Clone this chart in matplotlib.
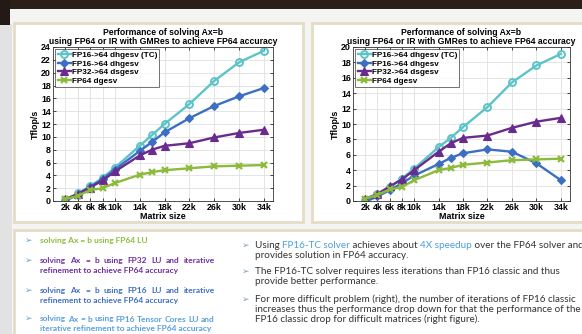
import matplotlib
matplotlib.use("Agg")
import matplotlib.pyplot as plt
from matplotlib.patches import Rectangle

# ---------------- data ----------------
sizes_k = [2, 4, 6, 8, 10, 14, 16, 18, 22, 26, 30, 34]
tick_k = [2, 4, 6, 8, 10, 14, 18, 22, 26, 30, 34]
tick_labels = ["2k", "4k", "6k", "8k", "10k", "14k", "18k", "22k", "26k", "30k", "34k"]

series_names = ["FP16->64 dhgesv (TC)", "FP16->64 dhgesv", "FP32->64 dsgesv", "FP64 dgesv"]

left_tc = [0.1, 1.2, 2.3, 3.6, 5.2, 8.6, 10.3, 12.0, 15.1, 18.7, 21.6, 23.4]
left_fp16 = [0.0, 1.0, 2.2, 3.4, 4.9, 7.8, 9.2, 10.7, 12.9, 14.8, 16.3, 17.6]
left_fp32 = [0.3, 1.1, 2.1, 3.2, 4.6, 7.1, 8.0, 8.6, 9.0, 9.9, 10.6, 11.1]
left_fp64 = [0.3, 0.8, 1.7, 2.0, 2.8, 4.1, 4.5, 4.8, 5.1, 5.4, 5.5, 5.6]

right_tc = [0.1, 0.9, 1.8, 2.9, 4.2, 7.0, 8.2, 9.6, 12.2, 15.4, 17.6, 19.1]
right_fp16 = [-0.1, 0.6, 1.4, 2.3, 3.3, 4.8, 5.6, 6.2, 6.7, 6.4, 4.9, 2.7]
right_fp32 = [0.3, 0.9, 1.9, 2.8, 4.0, 6.4, 7.5, 8.2, 8.5, 9.5, 10.3, 10.8]
right_fp64 = [0.3, 0.8, 1.5, 1.8, 2.7, 4.0, 4.3, 4.7, 5.0, 5.3, 5.4, 5.5]

left_yticks = list(range(0, 25, 2))
right_yticks = list(range(0, 21, 2))

title_text = "Performance of solving Ax=b\nusing FP64 or IR with GMRes to achieve FP64 accuracy"
xlabel_text = "Matrix size"
ylabel_text = "Tflop/s"

left_bullets = [
    (["solving Ax = b using FP64 LU"], "#8dbf3c"),
    (["solving Ax = b using FP32 LU and iterative", "refinement to achieve FP64 accuracy"], "#7030a0"),
    (["solving Ax = b using FP16 LU and iterative", "refinement to achieve FP64 accuracy"], "#3f6fc0"),
    (["solving Ax = b using FP16 Tensor Cores LU and", "iterative refinement to achieve FP64 accuracy"], "#5aa0e0"),
]

right_bullets = [
    [[("Using ", "#333333"), ("FP16-TC solver", "#4a9ee0"), (" achieves about ", "#333333"),
      ("4X speedup", "#4a9ee0"), (" over the FP64 solver and", "#333333")],
     [("provides solution in FP64 accuracy.", "#333333")]],
    [[("The FP16-TC solver requires less iterations than FP16 classic and thus", "#333333")],
     [("provide better performance.", "#333333")]],
    [[("For more difficult problem (right), the number of iterations of FP16 classic", "#333333")],
     [("increases thus the performance drop down for that the performance of the", "#333333")],
     [("FP16 classic drop for difficult matrices (right figure).", "#333333")]],
]

# ---------------- styles ----------------
colors = ["#5cc4c8", "#3c6fc4", "#6a2b8e", "#8cba3a"]
markers = ["o", "D", "^", "x"]
msizes = [5.0, 4.0, 5.2, 5.0]
W, H = 582, 334
CHART_FONT = "Liberation Sans"
TEXT_FONT = "Lato"

fig = plt.figure(figsize=(W / 100, H / 100), dpi=100)
fig.patch.set_facecolor("#f2f2f2")


def px_rect(x, y, w, h, **kw):
    r = Rectangle((x / W, 1 - (y + h) / H), w / W, h / H, transform=fig.transFigure, **kw)
    fig.patches.append(r)


# slide background
px_rect(0, 0, W, H, facecolor="#f4f4f2", edgecolor="none", zorder=-10)
px_rect(0, 24, 12, H - 24, facecolor="#e2e2e2", edgecolor="none", zorder=-9)
px_rect(0, 0, W, 9, facecolor="#2b1f19", edgecolor="none", zorder=-8)
px_rect(0, 0, 10, 25, facecolor="#231a16", edgecolor="none", zorder=-8)
# panels
px_rect(14, 23, 289, 199, facecolor="white", edgecolor="#e4dcc6", linewidth=2.0, zorder=-5)
px_rect(312, 23, 280, 199, facecolor="white", edgecolor="#e4dcc6", linewidth=2.0, zorder=-5)
px_rect(14, 230, 580, 110, facecolor="white", edgecolor="#e4dcc6", linewidth=2.0, zorder=-5)


def make_chart(ax_px, data, yticks, ymax):
    x0, y0, w, h = ax_px
    ax = fig.add_axes([x0 / W, 1 - (y0 + h) / H, w / W, h / H])
    for vals, name, c, m, ms in zip(data, series_names, colors, markers, msizes):
        kw = dict(color=c, linewidth=1.7, marker=m, markersize=ms, label=name)
        if m == "x":
            kw.update(markeredgewidth=1.6)
        elif m == "o":
            kw.update(markerfacecolor="none", markeredgewidth=1.4)
        else:
            kw.update(markeredgewidth=0.8)
        ax.plot(sizes_k, vals, **kw)
    ax.set_xlim(0, 35.5)
    ax.set_ylim(0, ymax)
    ax.set_xticks(tick_k)
    ax.set_xticklabels(tick_labels)
    ax.set_yticks(yticks)
    ax.grid(True, color="#e0e0e0", linewidth=0.6)
    ax.set_axisbelow(True)
    ax.tick_params(labelsize=6.4, length=2, width=0.5, pad=1.5, direction="in",
                   top=True, right=True)
    for lab in ax.get_xticklabels() + ax.get_yticklabels():
        lab.set_fontfamily(CHART_FONT)
        lab.set_fontweight("bold")
    for s in ax.spines.values():
        s.set_linewidth(0.6)
        s.set_color("#333333")
    ax.set_title(title_text, fontsize=6.2, fontweight="bold", family=CHART_FONT,
                 pad=2.2, linespacing=0.95)
    ax.set_xlabel(xlabel_text, fontsize=6.4, fontweight="bold", family=CHART_FONT, labelpad=0)
    ax.set_ylabel(ylabel_text, fontsize=6.4, fontweight="bold", family=CHART_FONT, labelpad=1)
    leg = ax.legend(loc="upper left", frameon=True, fancybox=False,
                    borderpad=0.25, labelspacing=0.1, handlelength=1.6, handletextpad=0.15,
                    borderaxespad=0.3, prop={"family": CHART_FONT, "weight": "bold", "size": 5.9})
    leg.get_frame().set_edgecolor("#333333")
    leg.get_frame().set_linewidth(0.6)
    return ax


make_chart((53, 47, 220, 154), [left_tc, left_fp16, left_fp32, left_fp64], left_yticks, 24)
make_chart((353, 47, 217, 154), [right_tc, right_fp16, right_fp32, right_fp64], right_yticks, 20)

# ---------------- text block ----------------
renderer = fig.canvas.get_renderer()


def text_width(s, **kw):
    t = fig.text(0, 0, s + "|", **kw)
    w1 = t.get_window_extent(renderer).width
    t.remove()
    t = fig.text(0, 0, "|", **kw)
    w2 = t.get_window_extent(renderer).width
    t.remove()
    return w1 - w2


def put(x, y, s, **kw):
    fig.text(x / W, 1 - y / H, s, va="baseline", ha="left", **kw)


def justify(x0, x1, y, line, **kw):
    words = line.split()
    widths = [text_width(wd, **kw) for wd in words]
    gap = (x1 - x0 - sum(widths)) / (len(words) - 1)
    x = x0
    for wd, wdt in zip(words, widths):
        put(x, y, wd, **kw)
        x += wdt + gap


lkw = dict(fontsize=6.0, family=TEXT_FONT, fontweight="bold")
bullet_kw = dict(fontsize=6.5, family=["DejaVu Sans"])
left_rows = [(243, None), (263, 272.5), (293, 302.5), (321.5, 331)]
for (lines, col), (ya, yb) in zip(left_bullets, left_rows):
    put(25, ya - 0.5, "\u27a2", color="#6f9fd8", **bullet_kw)
    if len(lines) == 1:
        put(40, ya, lines[0], color=col, **lkw)
    else:
        justify(40, 215, ya, lines[0], color=col, **lkw)
        put(40, yb, lines[1], color=col, **lkw)

rkw = dict(fontsize=7.1, family=TEXT_FONT)
right_rows = [[248.5, 258], [274, 283.5], [302.5, 312, 321.5]]
for para, ys in zip(right_bullets, right_rows):
    put(242, ys[0] - 0.5, "\u27a2", color="#7f9fc4", **bullet_kw)
    for segs, y in zip(para, ys):
        x = 255
        for s, c in segs:
            put(x, y, s, color=c, **rkw)
            x += text_width(s, **rkw)

fig.savefig("out.png", dpi=100, facecolor=fig.get_facecolor())
